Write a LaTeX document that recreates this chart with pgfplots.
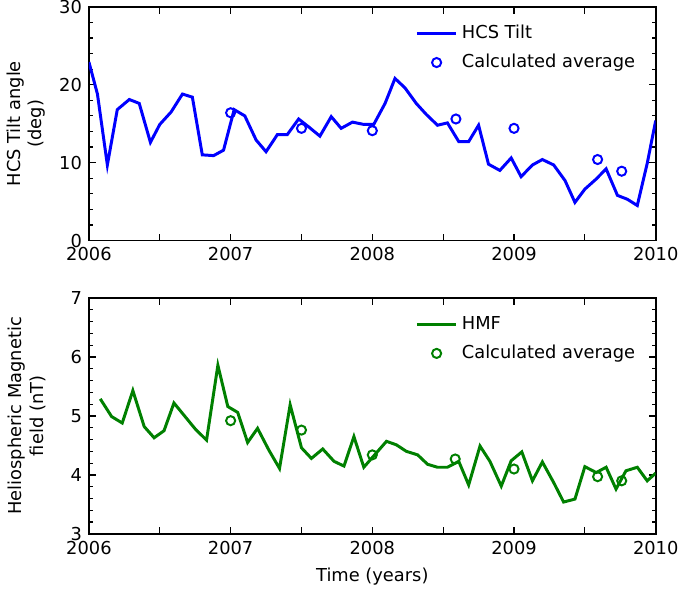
\documentclass[border=0pt]{standalone}
\usepackage{fontspec}
\setmainfont{DejaVu Sans}
\usepackage{pgfplots}
\pgfplotsset{compat=1.18}
\usepackage{pgfplotstable}

\definecolor{mplgreen}{RGB}{0,128,0}

% HCS tilt angle, one value per rotation
\pgfplotstableread{
t v
2006.00 22.9
2006.06 18.8
2006.13 9.7
2006.20 16.8
2006.285 18.1
2006.355 17.6
2006.434 12.6
2006.50 14.9
2006.58 16.5
2006.66 18.8
2006.73 18.4
2006.80 11.0
2006.88 10.9
2006.95 11.6
2007.025 16.8
2007.10 16.0
2007.18 12.9
2007.25 11.4
2007.33 13.6
2007.40 13.6
2007.48 15.6
2007.55 14.6
2007.63 13.4
2007.71 15.9
2007.78 14.4
2007.86 15.2
2007.94 14.9
2008.01 14.9
2008.09 17.6
2008.16 20.8
2008.23 19.6
2008.31 17.6
2008.38 16.2
2008.46 14.8
2008.53 15.1
2008.61 12.7
2008.68 12.7
2008.75 14.8
2008.82 9.8
2008.90 9.0
2008.98 10.6
2009.05 8.2
2009.13 9.7
2009.20 10.4
2009.28 9.7
2009.36 7.7
2009.43 4.9
2009.50 6.6
2009.58 7.9
2009.65 9.2
2009.73 5.8
2009.80 5.3
2009.87 4.5
2009.94 9.9
2010.00 15.4
}\tilt

\pgfplotstableread{
t v
2007.00 16.4
2007.50 14.4
2008.00 14.1
2008.59 15.6
2009.00 14.4
2009.59 10.4
2009.76 8.9
}\tiltavg

% HMF
\pgfplotstableread{
t v
2006.08 5.29
2006.16 4.99
2006.235 4.88
2006.31 5.43
2006.39 4.82
2006.46 4.63
2006.53 4.75
2006.60 5.22
2006.675 5.00
2006.75 4.78
2006.83 4.59
2006.91 5.86
2006.98 5.16
2007.05 5.06
2007.12 4.55
2007.19 4.79
2007.27 4.42
2007.345 4.11
2007.42 5.19
2007.50 4.46
2007.57 4.28
2007.65 4.44
2007.73 4.23
2007.80 4.15
2007.87 4.65
2007.94 4.13
2008.02 4.35
2008.10 4.57
2008.17 4.51
2008.24 4.40
2008.32 4.34
2008.39 4.18
2008.46 4.13
2008.53 4.13
2008.61 4.23
2008.68 3.83
2008.76 4.49
2008.83 4.23
2008.91 3.81
2008.98 4.24
2009.055 4.39
2009.13 3.90
2009.20 4.22
2009.28 3.87
2009.35 3.54
2009.43 3.59
2009.50 4.14
2009.58 4.04
2009.65 4.13
2009.72 3.76
2009.79 4.07
2009.87 4.13
2009.94 3.90
2010.00 4.03
}\hmf

\pgfplotstableread{
t v
2007.00 4.92
2007.50 4.76
2008.00 4.34
2008.585 4.27
2009.00 4.10
2009.59 3.97
2009.76 3.90
}\hmfavg

\pgfplotsset{
  panel/.style={
    scale only axis,
    width=286pt,
    xmin=2006, xmax=2010,
    xtick={2006,2006.5,2007,2007.5,2008,2008.5,2009,2009.5,2010},
    xticklabels={2006,,2007,,2008,,2009,,2010},
    minor y tick num=4,
    major tick length=3.5pt,
    minor tick length=2pt,
    every tick/.style={black, line width=0.6pt},
    axis line style={line width=0.9pt},
    tick label style={font=\fontsize{9}{11}\selectfont},
    yticklabel style={inner ysep=0pt},
    label style={font=\fontsize{9}{11}\selectfont},
    /pgf/number format/assume math mode=true,
    ylabel style={at={(rel axis cs:-0.064,0.5)}, anchor=south, align=center},
    legend style={draw=none, fill=none, font=\fontsize{9}{11}\selectfont,
      at={(rel axis cs:0.982,0.958)}, anchor=north east, row sep=2.5pt},
    legend cell align=left,
    legend image code/.code={%
      \draw[mark repeat=2,mark phase=2,##1] plot coordinates {(0pt,0pt) (10pt,0pt) (20pt,0pt)};},
  },
}

\begin{document}
\begin{tikzpicture}
\begin{axis}[panel,
  height=118pt,
  ymin=0, ymax=30,
  ytick={0,10,20,30},
  ylabel={HCS Tilt angle\\(deg)},
]
\addplot[blue, line width=1.5pt, no marks] table[x=t,y=v] {\tilt};
\addlegendentry{HCS Tilt}
\addplot[blue, only marks, mark=o, mark size=2.3pt, line width=1pt] table[x=t,y=v] {\tiltavg};
\addlegendentry{Calculated average}
\end{axis}

\begin{axis}[panel,
  at={(0pt,-29pt)}, anchor=north west,
  height=119pt,
  ymin=3, ymax=7,
  ytick={3,4,5,6,7},
  xlabel={Time (years)},
  ylabel={Heliospheric Magnetic\\field (nT)},
]
\addplot[mplgreen, line width=1.5pt, no marks] table[x=t,y=v] {\hmf};
\addlegendentry{HMF}
\addplot[mplgreen, only marks, mark=o, mark size=2.3pt, line width=1pt] table[x=t,y=v] {\hmfavg};
\addlegendentry{Calculated average}
\end{axis}
\end{tikzpicture}
\end{document}
